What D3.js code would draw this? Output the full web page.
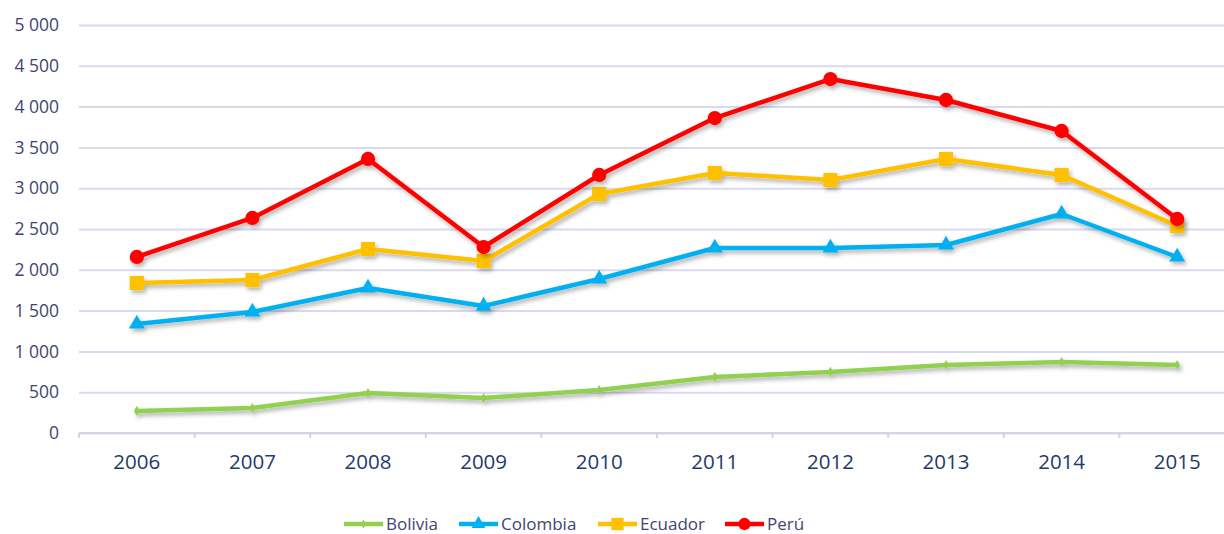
<!DOCTYPE html>
<html>
<head>
<style>
    body { margin: 0; background: #fff; }
    .grid line { stroke: #d9d9f0; stroke-width: 2; }
    .grid path { display: none; }
    .yaxis text { fill: #3f4470; font-size: 17.5px; font-family: "Open Sans", sans-serif; }
    .xaxis path, .xaxis line { stroke: #d4d4ea; stroke-width: 2; }
    .xaxis text { fill: #1f3a6b; font-size: 20.5px; font-family: "Open Sans", sans-serif; }
    .legend text { fill: #3f4470; font-size: 17px; font-family: "Open Sans", sans-serif; }
</style>
</head>
<body>
<svg width="1224" height="534"></svg>
<script src="https://cdn.jsdelivr.net/npm/d3@7"></script>
<script>

var years = ["2006", "2007", "2008", "2009", "2010", "2011", "2012", "2013", "2014", "2015"];
var bolivia  = [270, 306, 490, 429, 527, 686, 748, 833, 870, 833];
var colombia = [1336, 1483, 1777, 1556, 1887, 2267, 2267, 2304, 2684, 2157];
var ecuador  = [1838, 1875, 2255, 2108, 2929, 3186, 3100, 3358, 3162, 2537];
var peru     = [2157, 2635, 3358, 2279, 3162, 3860, 4338, 4081, 3701, 2623];
var yTicks = [0, 500, 1000, 1500, 2000, 2500, 3000, 3500, 4000, 4500, 5000];

var series = [
    {name: "Bolivia", values: bolivia, color: "#92d050", symbol: d3.symbolDiamond, size: 30},
    {name: "Colombia", values: colombia, color: "#00b0f0", symbol: d3.symbolTriangle, size: 110},
    {name: "Ecuador", values: ecuador, color: "#ffc000", symbol: d3.symbolSquare, size: 200},
    {name: "Perú", values: peru, color: "#ff0000", symbol: d3.symbolCircle, size: 160}
];

var svg = d3.select("svg"),
    margin = {top: 25, left: 79},
    width = 1156,
    height = 408,
    g = svg.append("g").attr("transform", "translate(" + margin.left + "," + margin.top + ")");

var loc = d3.formatLocale({decimal: ",", thousands: " ", grouping: [3], currency: ["", ""]});
var fmt = loc.format(",");

var x = d3.scaleBand().domain(years).range([0, width]);
var y = d3.scaleLinear().domain([0, 5000]).range([height, 0]);

var defs = svg.append("defs");
var f = defs.append("filter").attr("id", "shadow")
    .attr("x", "-10%").attr("y", "-10%").attr("width", "120%").attr("height", "130%");
f.append("feDropShadow").attr("dx", 2).attr("dy", 3).attr("stdDeviation", 2)
    .attr("flood-color", "#000").attr("flood-opacity", 0.3);

g.append("g")
    .attr("class", "grid")
    .call(d3.axisLeft(y).tickValues(yTicks).tickSize(-(1224 - margin.left)).tickFormat(""));

g.append("g")
    .attr("class", "yaxis")
    .call(d3.axisLeft(y).tickValues(yTicks).tickSize(0).tickPadding(20).tickFormat(fmt))
    .call(function(a) { a.select(".domain").remove(); });

var xa = g.append("g")
    .attr("class", "xaxis")
    .attr("transform", "translate(0," + height + ")")
    .call(d3.axisBottom(x).tickSize(0).tickPadding(21));
xa.select(".domain").attr("d", "M0,0H" + width);

// tick marks on band edges
xa.selectAll(".edge")
    .data(d3.range(years.length + 1))
    .enter().append("line")
    .attr("x1", function(i) { return i * x.step(); })
    .attr("x2", function(i) { return i * x.step(); })
    .attr("y1", 0).attr("y2", 5);

var line = d3.line()
    .x(function(d, i) { return x(years[i]) + x.bandwidth() / 2; })
    .y(function(d) { return y(d); });

var sg = g.selectAll(".series")
    .data(series)
    .enter().append("g")
    .attr("class", "series")
    .attr("filter", "url(#shadow)");

sg.append("path")
    .attr("fill", "none")
    .attr("stroke", function(s) { return s.color; })
    .attr("stroke-width", 4.5)
    .attr("stroke-linejoin", "round")
    .attr("d", function(s) { return line(s.values); });

sg.each(function(s) {
    d3.select(this).selectAll("path.mark")
        .data(s.values)
        .enter().append("path")
        .attr("class", "mark")
        .attr("fill", s.color)
        .attr("transform", function(d, i) {
            return "translate(" + (x(years[i]) + x.bandwidth() / 2) + "," + y(d) + ")";
        })
        .attr("d", d3.symbol().type(s.symbol).size(s.size));
});

// legend
var legX = [344, 459, 598, 725];
var leg = svg.append("g").attr("class", "legend")
    .selectAll("g")
    .data(series)
    .enter().append("g")
    .attr("transform", function(s, i) { return "translate(" + legX[i] + ",524)"; });

leg.append("line")
    .attr("x1", 0).attr("x2", 39)
    .attr("stroke", function(s) { return s.color; })
    .attr("stroke-width", 4.5);

leg.append("path")
    .attr("transform", "translate(19.5,0)")
    .attr("fill", function(s) { return s.color; })
    .attr("d", function(s) { return d3.symbol().type(s.symbol).size(s.size * 0.75)(); });

leg.append("text")
    .attr("x", 42)
    .attr("dy", "0.35em")
    .text(function(s) { return s.name; });

</script>
</body>
</html>
